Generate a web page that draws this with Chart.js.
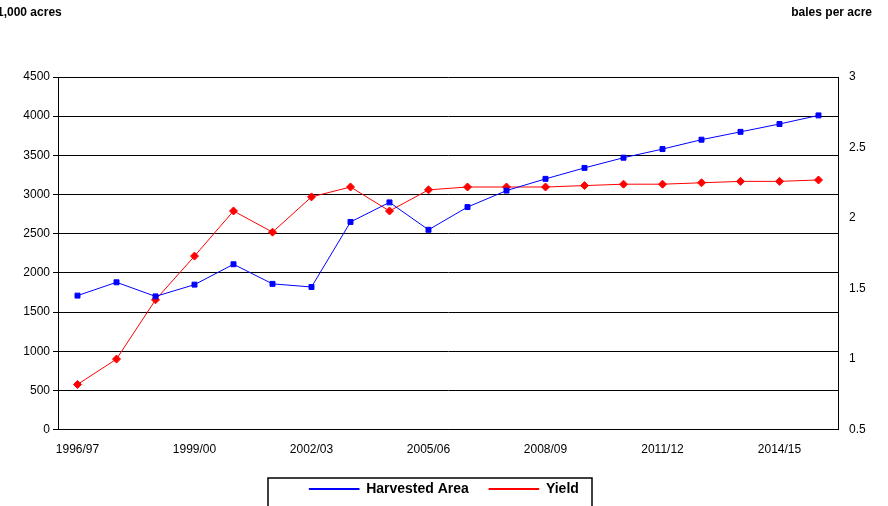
<!DOCTYPE html>
<html><head><meta charset="utf-8">
<script src="https://cdn.jsdelivr.net/npm/chart.js@4"></script>
<style>body{margin:0;background:#fff}#wrap{width:888px;height:506px;position:relative}
.t{position:absolute;top:5px;font:bold 12px "Liberation Sans",Arial,sans-serif}</style>
</head><body><div id="wrap"><canvas id="c" width="888" height="506"></canvas>
<div class="t" style="left:-3px">1,000 acres</div><div class="t" style="right:16px">bales per acre</div></div>
<script>
const years = ['1996/97','1997/98','1998/99','1999/00','2000/01','2001/02','2002/03','2003/04','2004/05','2005/06',
  '2006/07','2007/08','2008/09','2009/10','2010/11','2011/12','2012/13','2013/14','2014/15','2015/16'];
const harvestedArea = [1710,1880,1700,1850,2110,1860,1820,2650,2900,2550,2840,3050,3200,3340,3470,3580,3700,3800,3900,4010];
const yieldBales = [0.82,1.0,1.42,1.73,2.05,1.9,2.15,2.22,2.05,2.2,2.22,2.22,2.22,2.23,2.24,2.24,2.25,2.26,2.26,2.27];
const font = {family:'"Liberation Sans", Arial, sans-serif', size:12};

new Chart(document.getElementById('c'), {
  type: 'line',
  data: {
    labels: years,
    datasets: [
      {label:'Harvested Area', data:harvestedArea, yAxisID:'y', borderColor:'#0000ff', backgroundColor:'#0000ff',
       borderWidth:1, pointStyle:'rect', pointRadius:3.5},
      {label:'Yield', data:yieldBales, yAxisID:'y1', borderColor:'#ff0000', backgroundColor:'#ff0000',
       borderWidth:1, pointStyle:'rectRot', pointRadius:4}
    ]
  },
  options: {
    responsive:false, animation:false,
    layout:{padding:{top:77,left:0,right:0,bottom:0}},
    plugins:{legend:{position:'bottom',labels:{font:{...font,size:14,weight:'bold'},color:'#000',boxWidth:50,boxHeight:1,padding:20}}},
    scales:{
      x:{offset:true, grid:{display:false,offset:true}, border:{color:'#000'},
         ticks:{color:'#000',font,maxRotation:0,autoSkip:false,padding:5,callback:(v,i)=> i%3===0 ? years[i] : ''}},
      y:{min:0,max:4500,afterFit(s){s.width=58;},ticks:{stepSize:500,color:'#000',font,callback:v=>String(v)}, grid:{color:'#000',tickLength:5}, border:{color:'#000'}},
      y1:{position:'right',min:0.5,max:3,afterFit(s){s.width=50;},ticks:{stepSize:0.5,color:'#000',font,padding:6,callback:v=>String(v)}, grid:{display:false,tickLength:5}, border:{color:'#000'}}
    }
  },
  plugins:[{id:'legendBox',afterDraw(ch){const l=ch.legend,x=ch.ctx;x.save();x.strokeStyle='#000';x.lineWidth=1.5;
    x.strokeRect(268,478,324,30);x.restore();}}]
});
</script></body></html>
